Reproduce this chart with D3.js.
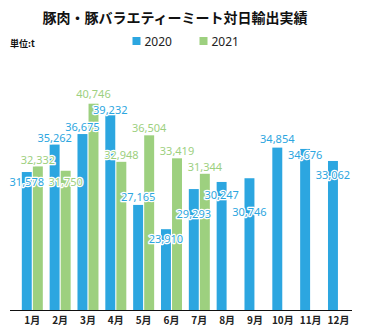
<!DOCTYPE html>
<html>
<head>
<meta charset="utf-8">
<script src="https://cdn.jsdelivr.net/npm/d3@7"></script>
<style>
  body { margin: 0; background: #fff; }
  svg { display: block; }
  .num { font-family: "Noto Sans", "Open Sans", sans-serif; font-size: 11px; paint-order: stroke; stroke: #fff; stroke-width: 2.5px; stroke-linejoin: round; }
</style>
</head>
<body>
<svg width="371" height="334"></svg>
<script>
// monthly export volumes (t)
var months = ["1月", "2月", "3月", "4月", "5月", "6月", "7月", "8月", "9月", "10月", "11月", "12月"];
var years = ["2020", "2021"];
var values2020 = [31578, 35262, 36675, 39232, 27165, 23910, 29293, 30247, 30746, 34854, 34676, 33062];
var values2021 = [32332, 31750, 40746, 32948, 36504, 33419, 31344];
// label nudge from the bar top, px
var labelShift2020 = [10, -6, -7, -5, -8, 10, 25, 13, 34, -8, 6, 14];
var labelShift2021 = [-6, 11, -10, -7, -7, -7, -7];

var colors = {"2020": "#2ca6e0", "2021": "#9dd07f"};

var svg = d3.select("svg");
var baseY = 310.5;

var x0 = d3.scaleBand()
    .domain(months)
    .range([18.4, 352.4])
    .paddingInner(0.2457)
    .paddingOuter(0.1228);

var x1 = d3.scaleBand()
    .domain(years)
    .range([0, x0.bandwidth()])
    .paddingInner(0.1);

var y = d3.scaleLinear()
    .domain([13000, 45000])
    .range([baseY, 72]);

// title
svg.append("text")
    .attr("x", 175)
    .attr("y", 23)
    .attr("text-anchor", "middle")
    .style("font-family", "'Noto Sans CJK JP', sans-serif")
    .style("font-weight", "bold")
    .style("font-size", "14px")
    .attr("fill", "#111")
    .text("豚肉・豚バラエティーミート対日輸出実績");

svg.append("text")
    .attr("x", 10)
    .attr("y", 47)
    .style("font-family", "'Noto Sans CJK JP', sans-serif")
    .style("font-weight", "bold")
    .style("font-size", "9px")
    .attr("fill", "#111")
    .text("単位:t");

// legend
var legend = svg.selectAll(".legend")
    .data(years)
    .enter().append("g")
    .attr("class", "legend")
    .attr("transform", function(d, i) { return "translate(" + (132.5 + i * 67) + ",37)"; });

legend.append("rect")
    .attr("width", 8)
    .attr("height", 8)
    .attr("fill", function(d) { return colors[d]; });

legend.append("text")
    .attr("x", 12)
    .attr("y", 8.5)
    .style("font-family", "'Noto Sans', sans-serif")
    .style("font-size", "12px")
    .attr("fill", "#222")
    .text(function(d) { return d; });

// bars
var series = [
    {year: "2020", values: values2020, shift: labelShift2020},
    {year: "2021", values: values2021, shift: labelShift2021}
];

var rows = [];
series.forEach(function(s) {
    s.values.forEach(function(v, i) {
        rows.push({year: s.year, month: months[i], value: v, shift: s.shift[i]});
    });
});

svg.append("g").selectAll("rect")
    .data(rows)
    .enter().append("rect")
    .attr("x", function(d) { return x0(d.month) + x1(d.year); })
    .attr("y", function(d) { return y(d.value); })
    .attr("width", x1.bandwidth())
    .attr("height", function(d) { return baseY - y(d.value); })
    .attr("fill", function(d) { return colors[d.year]; });

// axis
var axis = svg.append("g")
    .attr("transform", "translate(0," + baseY + ")")
    .call(d3.axisBottom(x0).tickSize(0).tickPadding(6));
axis.select(".domain").remove();
axis.selectAll("text")
    .style("font-family", "'Noto Sans CJK JP', sans-serif")
    .style("font-weight", "bold")
    .style("font-size", "10px")
    .attr("fill", "#222");

svg.append("line")
    .attr("x1", 10)
    .attr("x2", 352)
    .attr("y1", baseY)
    .attr("y2", baseY)
    .attr("stroke", "#111")
    .attr("stroke-width", 1);

// value labels
var fmt = d3.format(",");
svg.append("g").selectAll("text")
    .data(rows)
    .enter().append("text")
    .attr("class", "num")
    .attr("x", function(d) { return x0(d.month) + x1(d.year) + x1.bandwidth() / 2; })
    .attr("y", function(d) { return y(d.value) + d.shift; })
    .attr("dy", "0.35em")
    .attr("text-anchor", "middle")
    .attr("fill", function(d) { return colors[d.year]; })
    .text(function(d) { return fmt(d.value); });
</script>
</body>
</html>
